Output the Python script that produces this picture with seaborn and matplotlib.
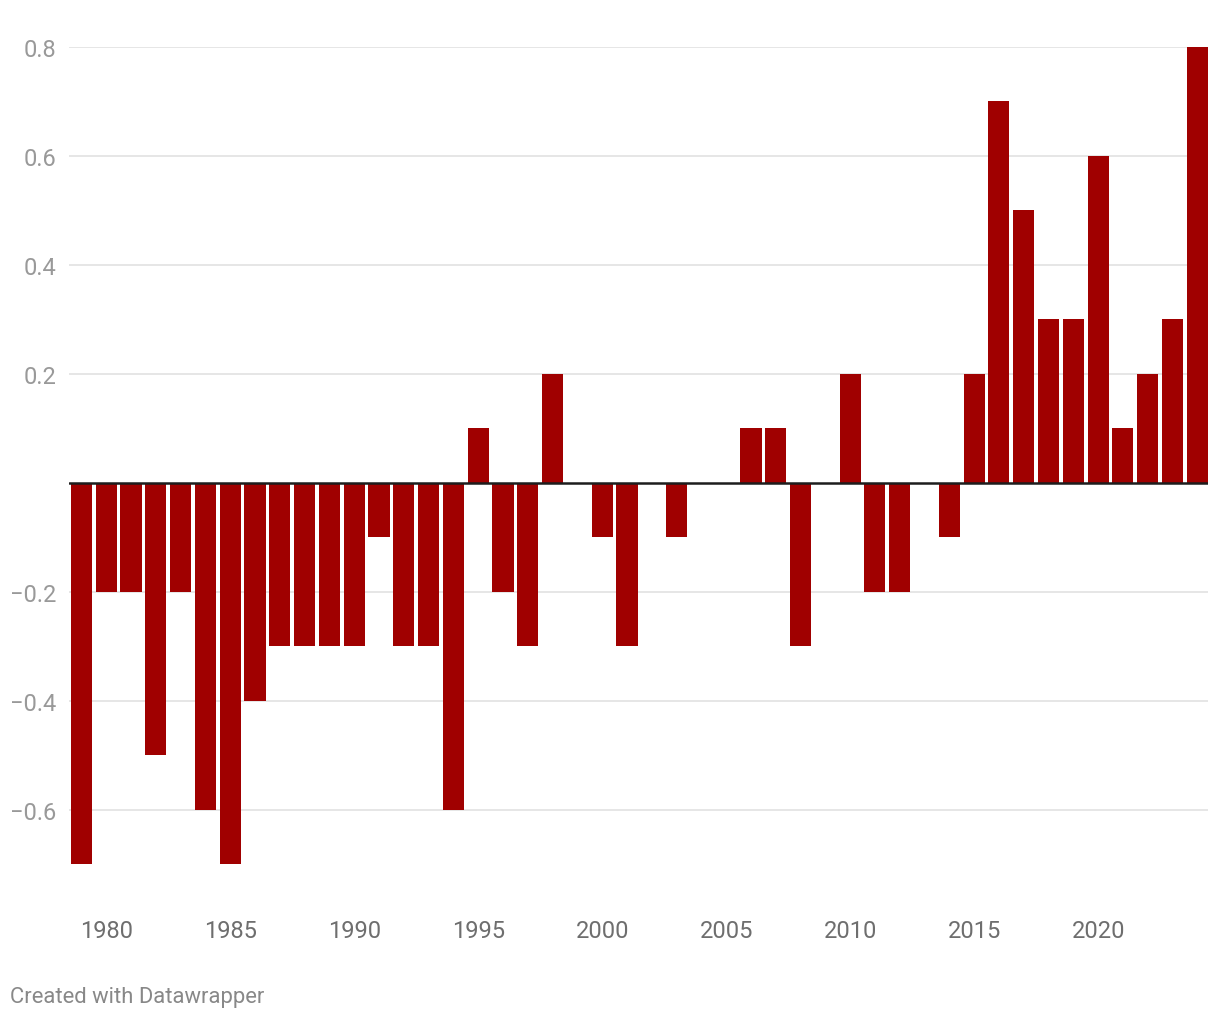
import matplotlib
matplotlib.use("Agg")
import matplotlib.pyplot as plt
import pandas as pd
import seaborn as sns

years = list(range(1979, 2025))
anomaly = [
    -0.7, -0.2, -0.2, -0.5, -0.2, -0.6, -0.7, -0.4, -0.3, -0.3,
    -0.3, -0.3, -0.1, -0.3, -0.3, -0.6, 0.1, -0.2, -0.3, 0.2,
    0.0, -0.1, -0.3, 0.0, -0.1, 0.0, 0.0, 0.1, 0.1, -0.3,
    0.0, 0.2, -0.2, -0.2, 0.0, -0.1, 0.2, 0.7, 0.5, 0.3,
    0.3, 0.6, 0.1, 0.2, 0.3, 0.8,
]
x_ticks = [1980, 1985, 1990, 1995, 2000, 2005, 2010, 2015, 2020]
y_ticks = [-0.6, -0.4, -0.2, 0.2, 0.4, 0.6, 0.8]

df = pd.DataFrame({"year": years, "value": anomaly})

sns.set_theme(style="white")
plt.rcParams["font.family"] = ["Roboto", "DejaVu Sans"]

fig = plt.figure(figsize=(12.2, 10.2), dpi=100)
# axes in pixel terms: left 69, right 1208, top 48, bottom 880
ax = fig.add_axes([69 / 1220, 1 - 880 / 1020, (1208 - 69) / 1220, (880 - 48) / 1020])

sns.barplot(data=df, x="year", y="value", native_scale=True, color="#a00000",
            saturation=1, width=0.85, linewidth=0, ax=ax)

ax.set_xlim(1978.5, 2024.43)
ax.set_ylim(-0.727, 0.8)

for t in y_ticks:
    ax.axhline(t, color="#e2e2e2", lw=1.2, zorder=0)
ax.axhline(0, color="#1d1d1d", lw=1.8, zorder=3)

ax.set_yticks(y_ticks)
ax.set_yticklabels([f"{t:.1f}".replace("-", "\u2212") for t in y_ticks],
                   color="#999999", fontsize=17)
ax.set_xticks(x_ticks)
ax.set_xticklabels([str(t) for t in x_ticks], color="#6e6e6e", fontsize=17)
ax.tick_params(axis="y", length=0, pad=9)
ax.tick_params(axis="x", length=0, pad=29)
ax.set_xlabel("")
ax.set_ylabel("")
for s in ax.spines.values():
    s.set_visible(False)

fig.text(10 / 1220, 1 - 998 / 1020, "Created with Datawrapper", color="#888888",
         fontsize=15.8, va="center", ha="left")

fig.savefig("out.png", dpi=100, facecolor="white")
